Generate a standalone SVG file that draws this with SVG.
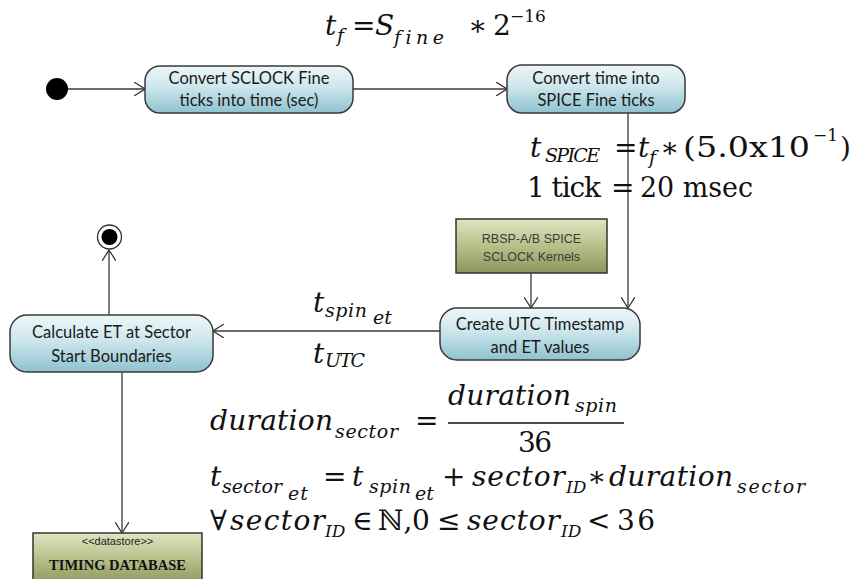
<svg xmlns="http://www.w3.org/2000/svg" width="850" height="579" viewBox="0 0 850 579">
<defs>
<linearGradient id="gBlue" x1="0" y1="0" x2="0" y2="1">
<stop offset="0" stop-color="#eef7f9"/>
<stop offset="0.45" stop-color="#cde6ec"/>
<stop offset="1" stop-color="#8ec2cf"/>
</linearGradient>
<linearGradient id="gGreen" x1="0" y1="0" x2="0" y2="1">
<stop offset="0" stop-color="#dfe5c2"/>
<stop offset="0.5" stop-color="#b6c08a"/>
<stop offset="1" stop-color="#8b975c"/>
</linearGradient>
<marker id="arr" viewBox="0 0 12 14" refX="11" refY="7" markerWidth="12" markerHeight="14" markerUnits="userSpaceOnUse" orient="auto">
<path d="M0,0 L11,7 L0,14" fill="none" stroke="#3a3a3a" stroke-width="1.3"/>
</marker>
<style>
.act{fill:url(#gBlue);stroke:#3a3a3a;stroke-width:1.5}
.obj{fill:url(#gGreen);stroke:#333;stroke-width:1.5}
.lbl{font-family:Lato,"Liberation Sans",sans-serif;font-size:16.5px;fill:#1a1a1a;text-anchor:middle}
.olbl{font-family:"Liberation Sans",Arial,sans-serif;font-size:12.5px;fill:#3a3a3a;text-anchor:middle}
.con{fill:none;stroke:#3a3a3a;stroke-width:1.3;marker-end:url(#arr)}
.m{font-family:"DejaVu Serif","DejaVu Sans",serif;font-size:28px;fill:#111;font-variant-ligatures:none}
.i{font-style:italic}
.s{font-size:19px}
.id{font-size:17px;font-style:italic}
.sup{font-size:17px}
</style>
</defs>

<g id="connectors">
<line class="con" x1="68" y1="89" x2="145" y2="89"/>
<line class="con" x1="353" y1="89" x2="507" y2="89"/>
<line class="con" x1="628" y1="113" x2="628" y2="308"/>
<line class="con" x1="531" y1="273" x2="531" y2="308"/>
<line class="con" x1="440" y1="331" x2="213" y2="331"/>
<line class="con" x1="109" y1="315" x2="109" y2="250"/>
<line class="con" x1="122" y1="372" x2="122" y2="533"/>
</g>

<g id="start">
<circle cx="57" cy="89" r="11" fill="#000"/>
</g>

<g id="end">
<circle cx="109.5" cy="237" r="12" fill="#fff" stroke="#333" stroke-width="1.3"/>
<circle cx="109.5" cy="237" r="8" fill="#000"/>
</g>

<g id="convert-sclock">
<rect class="act" x="145" y="66" width="208" height="47" rx="15"/>
<text class="lbl" x="249" y="84">Convert SCLOCK Fine</text>
<text class="lbl" x="249" y="106">ticks into time (sec)</text>
</g>

<g id="convert-spice">
<rect class="act" x="507" y="65" width="178" height="48" rx="15"/>
<text class="lbl" x="596" y="84">Convert time into</text>
<text class="lbl" x="596" y="106">SPICE Fine ticks</text>
</g>

<g id="kernels">
<rect class="obj" x="456" y="219" width="151" height="54"/>
<text class="olbl" x="531.5" y="243">RBSP-A/B SPICE</text>
<text class="olbl" x="531.5" y="261">SCLOCK Kernels</text>
</g>

<g id="create-utc">
<rect class="act" x="440" y="308" width="200" height="52" rx="17"/>
<text class="lbl" x="540" y="330">Create UTC Timestamp</text>
<text class="lbl" x="540" y="353">and ET values</text>
</g>

<g id="calc-et">
<rect class="act" x="10" y="315" width="203" height="57" rx="17"/>
<text class="lbl" x="111.5" y="338">Calculate ET at Sector</text>
<text class="lbl" x="111.5" y="362">Start Boundaries</text>
</g>

<g id="timing-db">
<rect class="obj" x="33" y="533" width="169" height="52"/>
<text x="117.5" y="545" font-family="Liberation Sans,Arial,sans-serif" font-size="11" fill="#222" text-anchor="middle">&lt;&lt;datastore&gt;&gt;</text>
<text x="117.5" y="570" font-family="Liberation Serif,serif" font-weight="bold" font-size="14.5" fill="#111" text-anchor="middle">TIMING DATABASE</text>
</g>

<g id="eq-tf">
<text class="m i" x="325" y="35">t</text>
<text class="m i s" x="337" y="42">f</text>
<text class="m" x="352" y="35">=</text>
<text class="m i" x="375" y="35">S</text>
<text class="m i s" x="394" y="44" textLength="50" lengthAdjust="spacing">fine</text>
<text class="m" x="468" y="35">∗</text>
<text class="m" x="493" y="35">2</text>
<text class="m sup" x="510" y="22">−16</text>
</g>

<g id="eq-spice">
<text class="m i" x="530" y="157">t</text>
<text class="m i s" x="545" y="162" font-size="17" textLength="55" lengthAdjust="spacing">SPICE</text>
<text class="m" x="614" y="157">=</text>
<text class="m i" x="638" y="157">t</text>
<text class="m i s" x="649" y="164">f</text>
<text class="m" x="660" y="157">∗</text>
<text class="m" x="683" y="157" textLength="127" lengthAdjust="spacingAndGlyphs">(5.0x10</text>
<text class="m sup" x="813" y="141" textLength="25" lengthAdjust="spacing">−1</text>
<text class="m" x="840" y="157">)</text>
<text class="m" x="527" y="197" textLength="74" lengthAdjust="spacing">1 tick</text>
<text class="m" x="611" y="197">=</text>
<text class="m" x="640" y="197" textLength="113" lengthAdjust="spacingAndGlyphs">20 msec</text>
</g>

<g id="lbl-transition">
<text class="m i" x="313" y="312">t</text>
<text class="m i s" x="325" y="317" textLength="42" lengthAdjust="spacing">spin</text>
<text class="m i s" x="373" y="324" textLength="19" lengthAdjust="spacing">et</text>
<text class="m i" x="313" y="363">t</text>
<text class="m i s" x="325" y="367" textLength="40" lengthAdjust="spacing">UTC</text>
</g>

<g id="eq-sector">
<text class="m i" x="210" y="430" textLength="123" lengthAdjust="spacing">duration</text>
<text class="m i s" x="335" y="438" textLength="63" lengthAdjust="spacing">sector</text>
<text class="m" x="415" y="430">=</text>
<text class="m i" x="448" y="405" textLength="123" lengthAdjust="spacing">duration</text>
<text class="m i s" x="575" y="412" textLength="42" lengthAdjust="spacing">spin</text>
<line x1="448" y1="423" x2="624" y2="423" stroke="#111" stroke-width="1.6"/>
<text class="m" x="518" y="452" textLength="34" lengthAdjust="spacing">36</text>

<text class="m i" x="210" y="486">t</text>
<text class="m i s" x="222" y="493" textLength="60" lengthAdjust="spacing">sector</text>
<text class="m i s" x="288" y="500" textLength="20" lengthAdjust="spacing">et</text>
<text class="m" x="323" y="486">=</text>
<text class="m i" x="352" y="486">t</text>
<text class="m i s" x="369" y="493" textLength="42" lengthAdjust="spacing">spin</text>
<text class="m i s" x="415" y="500" textLength="19" lengthAdjust="spacing">et</text>
<text class="m" x="442" y="486">+</text>
<text class="m i" x="472" y="486" textLength="93" lengthAdjust="spacing">sector</text>
<text class="m id" x="566" y="493">ID</text>
<text class="m" x="587" y="486">∗</text>
<text class="m i" x="609" y="486" textLength="124" lengthAdjust="spacing">duration</text>
<text class="m i s" x="737" y="493" textLength="68" lengthAdjust="spacing">sector</text>

<text class="m" x="210" y="530">∀</text>
<text class="m i" x="230" y="530" textLength="95" lengthAdjust="spacing">sector</text>
<text class="m id" x="325" y="537">ID</text>
<text class="m" x="352" y="530">∈</text>
<text class="m" x="378" y="530">ℕ,</text>
<text class="m" x="412" y="530">0</text>
<text class="m" x="437" y="530">≤</text>
<text class="m i" x="467" y="530" textLength="93" lengthAdjust="spacing">sector</text>
<text class="m id" x="561" y="537">ID</text>
<text class="m" x="587" y="530">&lt;</text>
<text class="m" x="617" y="530" textLength="38" lengthAdjust="spacing">36</text>
</g>
</svg>
